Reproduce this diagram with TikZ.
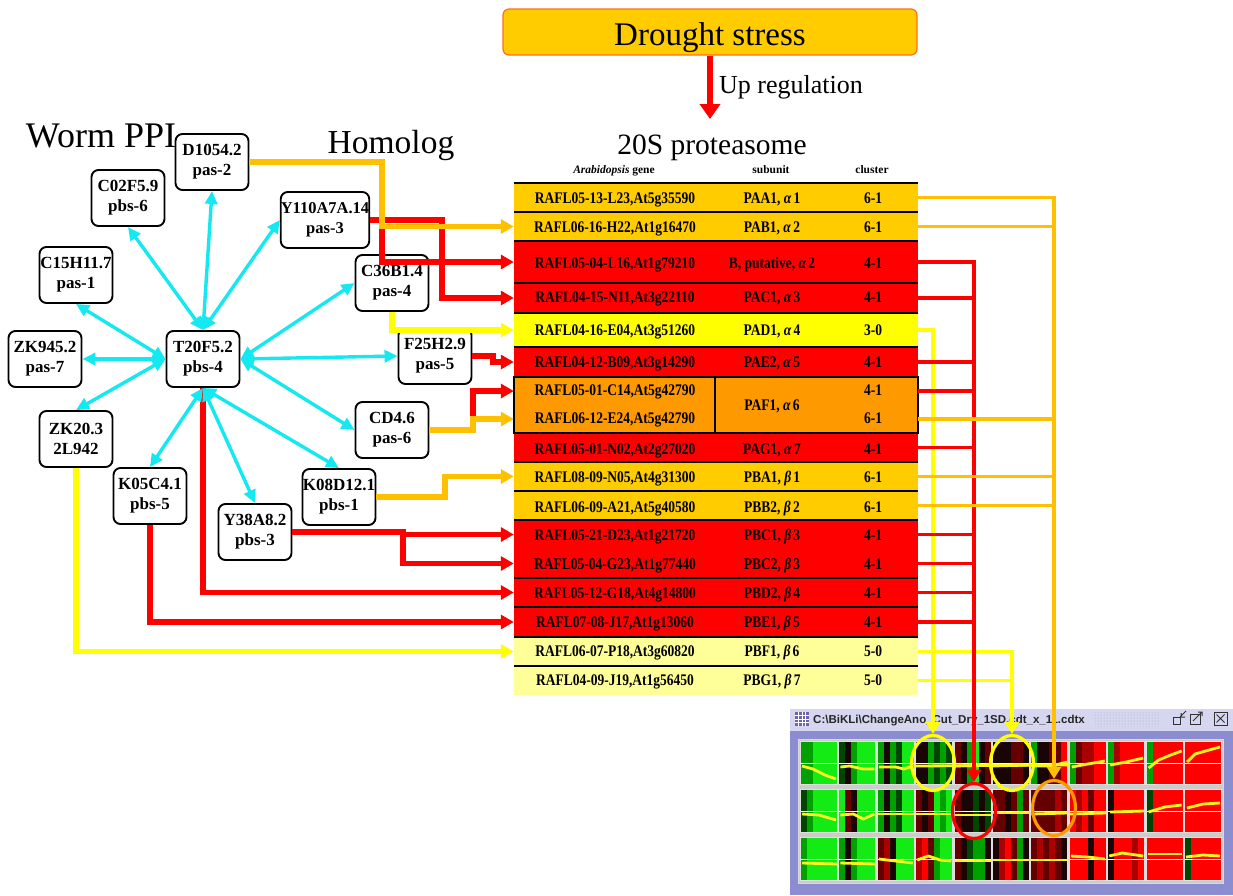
\documentclass[tikz,border=0pt]{standalone}
\usepackage{fontspec}
\setmainfont{Liberation Serif}
\newfontfamily\winfont{Liberation Sans}
\usetikzlibrary{arrows.meta,shapes.geometric,patterns}
\definecolor{tgold}{RGB}{255,204,0}
\definecolor{tred}{RGB}{255,0,0}
\definecolor{tyel}{RGB}{255,255,0}
\definecolor{torange}{RGB}{255,153,0}
\definecolor{tlight}{RGB}{255,255,153}
\definecolor{lgold}{RGB}{255,192,0}
\definecolor{lcyan}{RGB}{20,232,240}
\definecolor{dborder}{RGB}{255,110,30}
\definecolor{winbody}{RGB}{140,140,208}
\definecolor{wintitle}{RGB}{214,214,240}
\definecolor{wicon}{RGB}{110,100,170}
\definecolor{hG}{RGB}{20,235,20}
\definecolor{hg}{RGB}{0,160,0}
\definecolor{hd}{RGB}{0,70,0}
\definecolor{hk}{RGB}{25,5,5}
\definecolor{hr}{RGB}{100,0,0}
\definecolor{hm}{RGB}{170,0,0}
\definecolor{hR}{RGB}{255,0,0}
\definecolor{hyel}{RGB}{250,245,30}
\newcommand\vstretch[1]{\scalebox{1}[1.2]{#1}}
\tikzset{
 ppi/.style={draw=black, line width=1.9pt, rounded corners=7pt, fill=white, minimum width=73pt, minimum height=56pt, inner sep=0pt, align=center, font=\fontsize{17}{20}\selectfont\bfseries},
 cyanarrow/.style={draw=lcyan, line width=3.4pt, {Triangle[length=13pt,width=12pt]}-{Triangle[length=13pt,width=12pt]}},
 conn/.style={line width=5.2pt, -{Triangle[length=13pt,width=14pt]}},
 rline/.style={line width=3.8pt},
 rarrow/.style={line width=3.8pt, -{Triangle[length=12pt,width=14pt]}},
 rowbox/.style={rectangle, draw=none, inner sep=0pt, minimum width=404pt},
 sepline/.style={black, line width=2.4pt},
 gtext/.style={anchor=base, inner sep=0pt, font=\fontsize{13.5}{16}\selectfont\bfseries},
 htext/.style={anchor=base, inner sep=0pt, font=\fontsize{11.5}{13}\selectfont\bfseries},
 ell/.style={ellipse, draw, line width=3.2pt, inner sep=0pt, minimum width=43pt, minimum height=55pt},
}
\newcommand\hcell[4]{%
 \begin{scope}[shift={({801+38.4*#1},{742+48*#2})}]
  \foreach \hc [count=\hi from 0] in {#3} {\fill[\hc] ({6*\hi},0) rectangle ++(6,42);}
  \draw[white, line width=0.7pt] (0,21) -- (36,21);
  \draw[hyel, line width=2.8pt, line join=round] #4;
  \draw[gray!25, line width=1.4pt] (-0.7,-0.7) rectangle (36.7,42.7);
 \end{scope}}
\begin{document}
\begin{tikzpicture}[x=1pt,y=-1pt]
\useasboundingbox (0,0) rectangle (1233,895);
\fill[white] (0,0) rectangle (1233,895);

% ---------------- titles
\node[anchor=base, inner sep=0pt, font=\fontsize{36}{40}\selectfont] (worm) at (101,147) {Worm PPI};
\node[anchor=base, inner sep=0pt, font=\fontsize{33.5}{38}\selectfont] (homolog) at (391,153) {Homolog};
\node[draw=dborder, line width=1.2pt, fill=tgold, rounded corners=6pt, minimum width=414pt, minimum height=46pt, inner sep=0pt] (drought) at (710,32) {};
\node[anchor=base, inner sep=0pt, font=\fontsize{33}{38}\selectfont] (droughttxt) at (710,45) {Drought stress};
\coordinate (uptip) at (710,119);
\draw[tred, line width=6pt, -{Triangle[length=15pt,width=20pt]}] (drought.south) -- (uptip);
\node[anchor=base west, inner sep=0pt, font=\fontsize{26}{30}\selectfont] (upreg) at (719,93) {Up regulation};
\node[anchor=base, inner sep=0pt, font=\fontsize{29.5}{34}\selectfont] (prot) at (712,154) {20S proteasome};
\node[htext] (hdr1) at (614,173) {\textit{Arabidopsis} gene};
\node[htext] (hdr2) at (771,173) {subunit};
\node[htext] (hdr3) at (872,173) {cluster};

% ---------------- heatmap window
\fill[winbody] (790,708) rectangle (1233,895);
\fill[wintitle] (790,708) rectangle (1233,731);
\draw[white, line width=1pt] (790,708) -- (1233,708);
\fill[wicon] (795,712) rectangle (809,726);
\foreach \gx in {798.5,802,805.5} \draw[white, line width=0.8pt] (\gx,712) -- (\gx,726);
\foreach \gy in {715.5,719,722.5} \draw[white, line width=0.8pt] (795,\gy) -- (809,\gy);
\node[anchor=base west, inner sep=0pt, text=black!85, font=\winfont\bfseries\fontsize{11.5}{13}\selectfont] (wtitle) at (813,723) {C:\textbackslash BiKLi\textbackslash ChangeAno\_Cut\_Dry\_1SD.cdt\_x\_11.cdtx};
\fill[pattern=dots, pattern color=gray!70] (1095,712) rectangle (1160,726);
\draw[black!80, line width=1pt] (1173,717) rectangle (1180,724);
\draw[black!80, line width=1pt] (1180,717) -- (1186,711) (1181,713) -- (1181,717) -- (1185,717);
\draw[black!80, line width=1pt] (1190,714) rectangle (1200,724);
\draw[black!80, line width=1pt] (1193,721) -- (1202,712) (1198,712) -- (1202,712) -- (1202,716);
\draw[black!80, line width=1pt] (1214,712) rectangle (1227,725);
\draw[black!80, line width=1pt] (1216.5,714.5) -- (1224.5,722.5) (1224.5,714.5) -- (1216.5,722.5);
\fill[gray!40] (798,739) rectangle (1223,883);
\draw[white!70!gray, line width=1pt] (798,739) rectangle (1223,883);

\hcell{0}{0}{hg,hg,hG,hG,hG,hG}{(1,24) -- (12,27) -- (24,33) -- (35,37)}
\hcell{1}{0}{hd,hk,hg,hG,hG,hG}{(1,25) -- (10,24) -- (24,27) -- (35,27)}
\hcell{2}{0}{hg,hk,hg,hd,hG,hG}{(1,25) -- (18,25) -- (26,27) -- (35,24)}
\hcell{3}{0}{hk,hk,hg,hd,hg,hd}{(0,24) -- (36,24)}
\hcell{4}{0}{hr,hk,hg,hG,hk,hr}{(0,24) -- (36,23)}
\hcell{5}{0}{hk,hk,hk,hr,hr,hk}{(0,24) -- (36,23)}
\hcell{6}{0}{hg,hk,hk,hr,hr,hR}{(0,24) -- (20,24) -- (36,20)}
\hcell{7}{0}{hg,hr,hm,hm,hR,hR}{(2,25) -- (18,22) -- (35,19)}
\hcell{8}{0}{hg,hm,hR,hR,hR,hR}{(2,23) -- (18,20) -- (35,16)}
\hcell{9}{0}{hg,hR,hR,hR,hR,hR}{(2,26) -- (12,18) -- (24,13) -- (35,9)}
\hcell{10}{0}{hR,hR,hR,hR,hR,hR}{(2,20) -- (10,12) -- (24,8) -- (35,5)}
\hcell{0}{1}{hd,hg,hG,hG,hG,hG}{(1,24) -- (18,25) -- (35,30)}
\hcell{1}{1}{hG,hr,hk,hG,hG,hG}{(1,25) -- (14,24) -- (24,29) -- (35,24)}
\hcell{2}{1}{hg,hk,hg,hd,hG,hG}{(0,24) -- (36,24)}
\hcell{3}{1}{hr,hk,hr,hG,hg,hG}{(0,24) -- (36,24)}
\hcell{4}{1}{hr,hk,hk,hd,hk,hd}{(0,25) -- (36,25)}
\hcell{5}{1}{hr,hr,hk,hr,hg,hr}{(0,23) -- (36,23)}
\hcell{6}{1}{hr,hr,hr,hr,hm,hr}{(0,24) -- (36,23)}
\hcell{7}{1}{hR,hm,hR,hr,hR,hR}{(0,24) -- (36,23)}
\hcell{8}{1}{hk,hR,hR,hR,hR,hR}{(2,22) -- (36,21)}
\hcell{9}{1}{hd,hR,hR,hR,hR,hR}{(2,22) -- (18,17) -- (35,15)}
\hcell{10}{1}{hR,hR,hR,hR,hR,hR}{(2,18) -- (18,14) -- (35,13)}
\hcell{0}{2}{hg,hG,hG,hG,hG,hG}{(1,25) -- (36,26)}
\hcell{1}{2}{hg,hk,hg,hG,hG,hG}{(1,25) -- (36,26)}
\hcell{2}{2}{hr,hm,hk,hG,hG,hG}{(1,21) -- (18,23) -- (35,25)}
\hcell{3}{2}{hm,hR,hr,hg,hG,hG}{(1,22) -- (12,18) -- (24,22) -- (35,23)}
\hcell{4}{2}{hr,hk,hd,hg,hg,hk}{(0,23) -- (36,23)}
\hcell{5}{2}{hk,hm,hR,hr,hg,hk}{(0,22) -- (36,22)}
\hcell{6}{2}{hr,hm,hr,hm,hr,hk}{(0,22) -- (36,22)}
\hcell{7}{2}{hR,hR,hR,hk,hR,hR}{(1,18) -- (18,19) -- (35,21)}
\hcell{8}{2}{hk,hR,hR,hR,hm,hR}{(1,18) -- (14,15) -- (35,18)}
\hcell{9}{2}{hR,hR,hR,hR,hR,hR}{(1,16) -- (35,16)}
\hcell{10}{2}{hd,hR,hR,hR,hR,hR}{(1,19) -- (18,17) -- (35,18)}
\draw[hyel, line width=2.8pt] (914,766) -- (1070,765);

\node[ell, draw=tyel] (E1) at (933,763) {};
\node[ell, draw=tyel] (E2) at (1012,763) {};
\node[ell, draw=tred] (E3) at (974,811) {};
\node[ell, draw=torange] (E4) at (1054,808) {};

% ---------------- table
\node[rowbox, fill=tgold, minimum height=29pt] (r1) at (716,197.5) {};
\node[rowbox, fill=tgold, minimum height=29pt] (r2) at (716,226.5) {};
\node[rowbox, fill=tred, minimum height=42pt] (r3) at (716,262) {};
\node[rowbox, fill=tred, minimum height=30pt] (r4) at (716,298) {};
\node[rowbox, fill=tyel, minimum height=34pt] (r5) at (716,330) {};
\node[rowbox, fill=tred, minimum height=30pt] (r6) at (716,362) {};
\node[rowbox, fill=torange, minimum height=28pt] (r7a) at (716,391) {};
\node[rowbox, fill=torange, minimum height=28pt] (r7b) at (716,419) {};
\node[rowbox, fill=tred, minimum height=29pt] (r8) at (716,447.5) {};
\node[rowbox, fill=tgold, minimum height=29pt] (r9) at (716,476.5) {};
\node[rowbox, fill=tgold, minimum height=29pt] (r10) at (716,505.5) {};
\node[rowbox, fill=tred, minimum height=29pt] (r11a) at (716,534.5) {};
\node[rowbox, fill=tred, minimum height=29pt] (r11b) at (716,563.5) {};
\node[rowbox, fill=tred, minimum height=29pt] (r12) at (716,592.5) {};
\node[rowbox, fill=tred, minimum height=30pt] (r13) at (716,622) {};
\node[rowbox, fill=tlight, minimum height=29pt] (r14) at (716,651.5) {};
\node[rowbox, fill=tlight, minimum height=29pt] (r15) at (716,680.5) {};
\foreach \yy in {183,212,241,283,313,347,462,491,520,578,607,637,666}
  \draw[sepline] (514,\yy) -- (918,\yy);
\draw[sepline] (514,377) rectangle (918,433);
\draw[sepline] (715,377) -- (715,433);

\foreach \yy/\rg/\rsu/\rcl [count=\i] in {
 198/{RAFL05-13-L23,At5g35590}/{PAA1, \textit{α}\,1}/6-1,
 227/{RAFL06-16-H22,At1g16470}/{PAB1, \textit{α}\,2}/6-1,
 263/{RAFL05-04-L16,At1g79210}/{B, putative, \textit{α}\,2}/4-1,
 297/{RAFL04-15-N11,At3g22110}/{PAC1, \textit{α}\,3}/4-1,
 330/{RAFL04-16-E04,At3g51260}/{PAD1, \textit{α}\,4}/3-0,
 362/{RAFL04-12-B09,At3g14290}/{PAE2, \textit{α}\,5}/4-1,
 449/{RAFL05-01-N02,At2g27020}/{PAG1, \textit{α}\,7}/4-1,
 477/{RAFL08-09-N05,At4g31300}/{PBA1, \textit{β}\,1}/6-1,
 507/{RAFL06-09-A21,At5g40580}/{PBB2, \textit{β}\,2}/6-1,
 535/{RAFL05-21-D23,At1g21720}/{PBC1, \textit{β}\,3}/4-1,
 564/{RAFL05-04-G23,At1g77440}/{PBC2, \textit{β}\,3}/4-1,
 593/{RAFL05-12-G18,At4g14800}/{PBD2, \textit{β}\,4}/4-1,
 622/{RAFL07-08-J17,At1g13060}/{PBE1, \textit{β}\,5}/4-1,
 651/{RAFL06-07-P18,At3g60820}/{PBF1, \textit{β}\,6}/5-0,
 680/{RAFL04-09-J19,At1g56450}/{PBG1, \textit{β}\,7}/5-0}
{
 \node[gtext] (gene\i) at (615,\yy+5.2) {\vstretch{\rg}};
 \node[gtext] (sub\i) at (772,\yy+5.2) {\vstretch{\rsu}};
 \node[gtext] (clu\i) at (873,\yy+5.2) {\vstretch{\rcl}};
}
\node[gtext] (geneF1) at (615,395.2) {\vstretch{RAFL05-01-C14,At5g42790}};
\node[gtext] (geneF2) at (615,423.2) {\vstretch{RAFL06-12-E24,At5g42790}};
\node[gtext] (subF) at (772,410.2) {\vstretch{PAF1, \textit{α}\,6}};
\node[gtext] (cluF1) at (873,395.2) {\vstretch{4-1}};
\node[gtext] (cluF2) at (873,423.2) {\vstretch{6-1}};

% ---------------- right connectors
\draw[rarrow, tyel] (r5.east) -| (E1.north);
\draw[rarrow, tyel] (r14.east) -| (E2.north);
\draw[rline, tyel] (r15.east) -- (r15.east -| E2);
\draw[rarrow, tred] (r3.east) -| (E3.north);
\foreach \rr in {r4,r6,r7a,r8,r11a,r11b,r12,r13}
  \draw[rline, tred] (\rr.east) -- (\rr.east -| E3);
\draw[rarrow, lgold] (r1.east) -| (E4.north);
\foreach \rr in {r2,r7b,r9,r10}
  \draw[rline, lgold] (\rr.east) -- (\rr.east -| E4);

% ---------------- PPI network
\node[ppi] (D) at (212,162) {D1054.2\\pas-2};
\node[ppi] (C02) at (128,198) {C02F5.9\\pbs-6};
\node[ppi, minimum width=84pt, font=\fontsize{16.5}{20}\selectfont\bfseries] (Y110) at (325,220) {Y110A7A.14\\pas-3};
\node[ppi] (C15) at (76,275) {C15H11.7\\pas-1};
\node[ppi] (C36) at (392,283) {C36B1.4\\pas-4};
\node[ppi] (ZK945) at (45,359) {ZK945.2\\pas-7};
\node[ppi] (T20) at (203,359) {T20F5.2\\pbs-4};
\node[ppi] (F25) at (435,356) {F25H2.9\\pas-5};
\node[ppi] (CD4) at (392,430) {CD4.6\\pas-6};
\node[ppi] (ZK20) at (76,439) {ZK20.3\\2L942};
\node[ppi] (K05) at (150,496) {K05C4.1\\pbs-5};
\node[ppi] (Y38) at (255,532) {Y38A8.2\\pbs-3};
\node[ppi] (K08) at (339,497) {K08D12.1\\pbs-1};

% homolog connectors (left)
\draw[conn, tred] (Y110.east) -| (442,298) -- (r4.west);
\draw[conn, tred] (382,220) |- (r3.west);
\draw[conn, lgold] (D.east) -| (382,226.5) -- (r2.west);
\draw[conn, tyel] (C36.south) |- (r5.west);
\draw[conn, tred] (F25.east) -- (493,356) |- (r6.west);
\draw[conn, tred] (473,419) |- (r7a.west);
\draw[conn, lgold] (CD4.east) -| (473,419) -- (r7b.west);
\draw[conn, lgold] (K08.east) -| (445,476.5) -- (r9.west);
\draw[conn, tred] (Y38.east) -- (403,532) |- (r11a.west);
\draw[conn, tred] (403,534) |- (r11b.west);
\draw[conn, tred] (T20.south) |- (r12.west);
\draw[conn, tred] (K05.south) |- (r13.west);
\draw[conn, tyel] (ZK20.south) |- (r14.west);

% interactions (cyan)
\draw[cyanarrow] (T20.north) -- (D.south);
\draw[cyanarrow] (T20.north) -- (C02.south);
\draw[cyanarrow] (T20.north) -- (Y110.west);
\draw[cyanarrow] (T20.west) -- (C15.south);
\draw[cyanarrow] (T20.west) -- (ZK945.east);
\draw[cyanarrow] (T20.west) -- (ZK20.north);
\draw[cyanarrow] (T20.east) -- (C36.west);
\draw[cyanarrow] (T20.east) -- (F25.west);
\draw[cyanarrow] (T20.east) -- (CD4.west);
\draw[cyanarrow] (T20.south) -- (K05.north);
\draw[cyanarrow] (T20.south) -- (Y38.north);
\draw[cyanarrow] (T20.south) -- (K08.north);
\end{tikzpicture}
\end{document}
